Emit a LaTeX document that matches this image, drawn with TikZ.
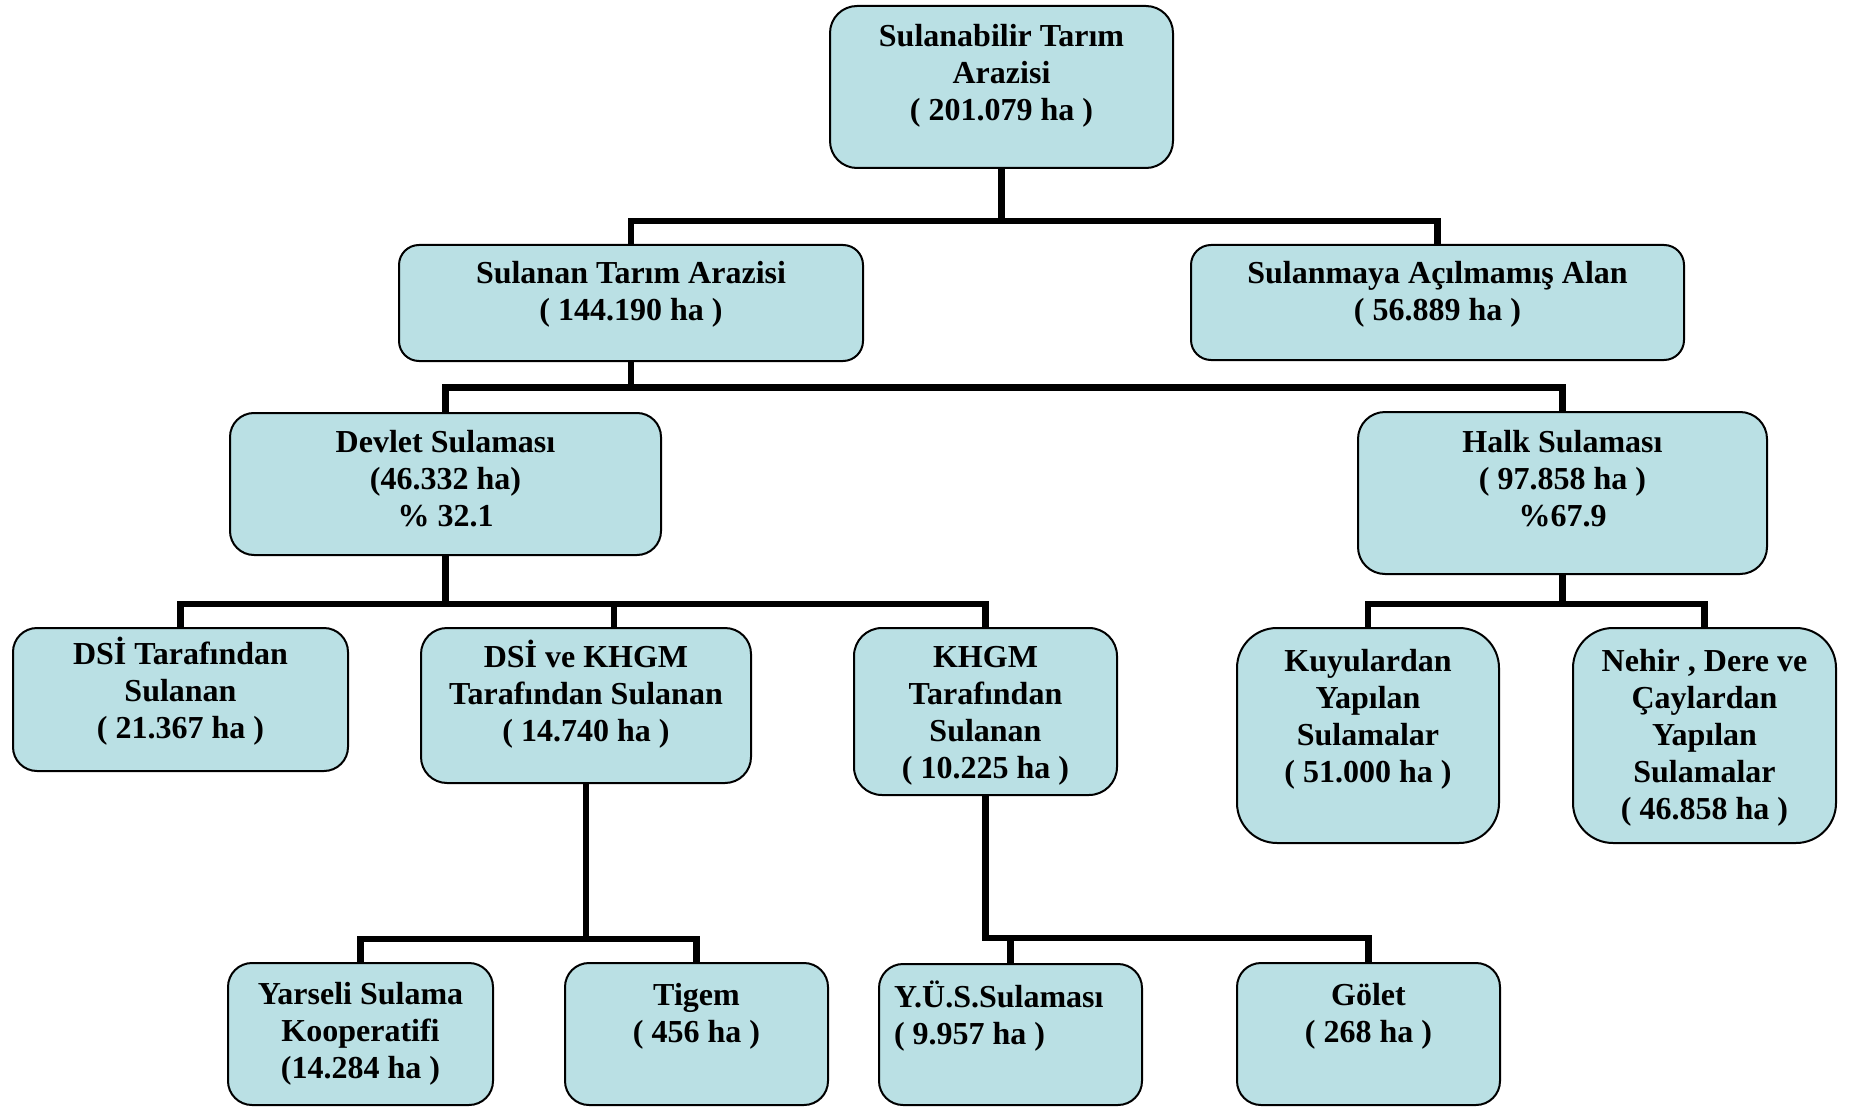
\documentclass[tikz,border=0pt]{standalone}
\usepackage{fontspec}
\setmainfont{Liberation Serif}
\definecolor{boxfill}{RGB}{186,224,228}
\newcommand\bxt[4]{\parbox[c][#2pt][t]{#1pt}{\centering\rule{0pt}{#3pt}#4}}
\newcommand\bxl[4]{\parbox[c][#2pt][t]{#1pt}{\raggedright\leftskip=15pt\rule{0pt}{#3pt}#4}}
\begin{document}
\begin{tikzpicture}[x=1pt,y=-1pt,
  bx/.style={draw=black,line width=2pt,fill=boxfill,inner sep=0pt,
    font=\fontsize{32}{37}\selectfont\bfseries},
  conn/.style={draw=black,line width=6.5pt,line join=miter}]
\useasboundingbox (0,0) rectangle (1852,1107);
\node[bx,rounded corners=27pt] (n1) at (1001.5,87) {\bxt{343}{162}{40.5}{Sulanabilir Tarım\\Arazisi\\( 201.079 ha )}};
\node[bx,rounded corners=20pt] (n2) at (631,303) {\bxt{464}{116}{38}{Sulanan Tarım Arazisi\\( 144.190 ha )}};
\node[bx,rounded corners=20pt] (n3) at (1437.5,302.5) {\bxt{493}{115}{38}{Sulanmaya Açılmamış Alan\\( 56.889 ha )}};
\node[bx,rounded corners=24pt] (n4) at (445.5,484) {\bxt{431}{142}{39.5}{Devlet Sulaması\\(46.332 ha)\\\% 32.1}};
\node[bx,rounded corners=27pt] (n5) at (1562.5,493) {\bxt{409}{162}{40.5}{Halk Sulaması\\( 97.858 ha )\\\%67.9}};
\node[bx,rounded corners=24pt] (n6) at (180.5,699.5) {\bxt{335}{143}{36}{DSİ Tarafından\\Sulanan\\( 21.367 ha )}};
\node[bx,rounded corners=26pt] (n7) at (586,705.5) {\bxt{330}{155}{39.5}{DSİ ve KHGM\\Tarafından Sulanan\\( 14.740 ha )}};
\node[bx,rounded corners=28pt] (n8) at (985.5,711.5) {\bxt{263}{167}{39.5}{KHGM\\Tarafından\\Sulanan\\( 10.225 ha )}};
\node[bx,rounded corners=40pt] (n9) at (1368,735.5) {\bxt{262}{215}{43}{Kuyulardan\\Yapılan\\Sulamalar\\( 51.000 ha )}};
\node[bx,rounded corners=40pt] (n10) at (1704.5,735.5) {\bxt{263}{215}{43}{Nehir , Dere ve\\Çaylardan\\Yapılan\\Sulamalar\\( 46.858 ha )}};
\node[bx,rounded corners=24pt] (n11) at (360.5,1034) {\bxt{265}{142}{41}{Yarseli Sulama\\Kooperatifi\\(14.284 ha )}};
\node[bx,rounded corners=24pt] (n12) at (696.5,1034) {\bxt{263}{142}{42}{Tigem\\( 456 ha )}};
\node[bx,rounded corners=24pt] (n13) at (1010.5,1034.5) {\bxl{263}{141}{43.5}{Y.Ü.S.Sulaması\\( 9.957 ha )}};
\node[bx,rounded corners=24pt] (n14) at (1368.5,1034) {\bxt{263}{142}{42}{Gölet\\( 268 ha )}};
% junctions
\coordinate (j1) at (1001.5,221);
\coordinate (j2) at (631,387.5);
\coordinate (j3) at (445.5,604);
\coordinate (j4) at (586,939);
\coordinate (j5) at (985.5,938);
\coordinate (j6) at (1562.5,604);
\coordinate (s7) at ([xshift=28pt]n7.north);
% connectors
\draw[conn] (n1.south) -- (j1);
\draw[conn] (n2.north) |- (j1) -| (n3.north);
\draw[conn] (n2.south) -- (j2);
\draw[conn] (n4.north) |- (j2) -| (n5.north);
\draw[conn] (n4.south) -- (j3);
\draw[conn] (n6.north) |- (j3) -| (n8.north);
\draw[conn] (s7) -- (s7 |- j3);
\draw[conn] (n7.south) -- (j4);
\draw[conn] (n11.north) |- (j4) -| (n12.north);
\draw[conn] (n8.south) -- (j5) -| (n14.north);
\draw[conn] (n13.north) -- (n13.north |- j5);
\draw[conn] (n5.south) -- (j6);
\draw[conn] (n9.north) |- (j6) -| (n10.north);
\end{tikzpicture}
\end{document}
